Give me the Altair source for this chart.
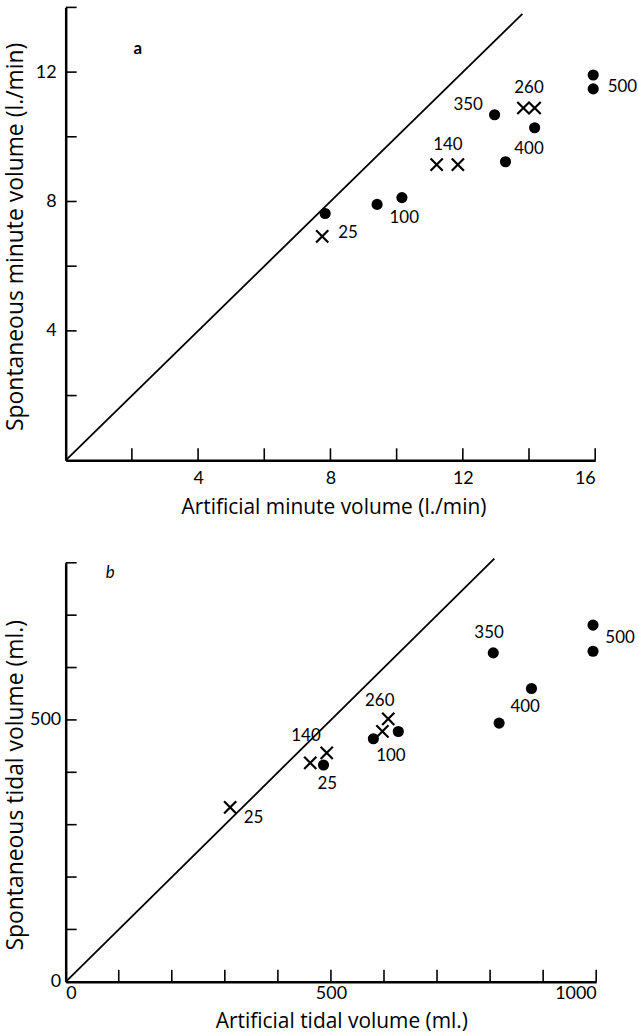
import altair as alt
import pandas as pd

# ---------------- Panel a : minute volume (l./min) ----------------
a_dot_x = [7.84, 9.41, 10.16, 12.96, 14.17, 13.29, 15.94, 15.94]
a_dot_y = [7.63, 7.91, 8.12, 10.68, 10.28, 9.23, 11.91, 11.48]
a_cross_x = [7.75, 11.21, 11.85, 13.83, 14.17]
a_cross_y = [6.92, 9.14, 9.14, 10.89, 10.89]
a_label_text = ["25", "100", "140", "350", "260", "400", "500"]
a_label_x = [8.53, 10.23, 11.55, 12.16, 14.0, 14.0, 16.82]
a_label_y = [7.02, 7.48, 9.75, 10.98, 11.51, 9.63, 11.54]
a_identity = [0, 13.8]
a_xticks = [2, 4, 6, 8, 10, 12, 14, 16]
a_yticks = [2, 4, 6, 8, 10, 12, 14]
a_xlabels = [4, 8, 12, 16]
a_ylabels = [4, 8, 12]
a_panel_letter = ["a"]
a_panel_xy = [2.18, 12.7]

# ---------------- Panel b : tidal volume (ml.) ----------------
b_dot_x = [806, 994, 994, 878, 817, 580, 627, 486]
b_dot_y = [628, 681, 631, 560, 494, 464, 478, 414]
b_cross_x = [310, 461, 492, 597, 608]
b_cross_y = [333, 418, 437, 478, 502]
b_label_text = ["350", "500", "400", "260", "100", "140", "25", "25"]
b_label_x = [798, 1045, 866, 592, 613, 453, 493, 354]
b_label_y = [665, 657, 524, 536, 431, 469, 378, 312]
b_identity = [0, 808]
b_xticks = [100, 200, 300, 400, 500, 600, 700, 800, 900, 1000]
b_yticks = [100, 200, 300, 400, 500, 600, 700, 800]
b_xlabels = [0, 500, 1000]
b_ylabels = [0, 500]
b_panel_letter = ["b"]
b_panel_xy = [84, 780]

CROSS = "M-1,-1L1,1M-1,1L1,-1"
FONT = "Lato"
TFONT = "Open Sans"


def panel(dx, dy, cx, cy, lt, lx, ly, ident, xt, yt, xl, yl, letter, lxy,
          xdom, ydom, w, h, xtitle, ytitle, italic, lab_pad_x, lab_pad_y,
          title_pad_x, title_pad_y, title_x, title_y):
    xs = alt.Scale(domain=xdom, nice=False, zero=False)
    ys = alt.Scale(domain=ydom, nice=False, zero=False)
    xaxis = alt.Axis(values=xl, title=xtitle, labelPadding=lab_pad_x,
                     titlePadding=title_pad_x, titleX=title_x, format="d",
                     titleFontSize=21)
    yaxis = alt.Axis(values=yl, title=ytitle, labelPadding=lab_pad_y,
                     titlePadding=title_pad_y, titleY=title_y, format="d",
                     titleFontSize=23)
    X = alt.X("x:Q", scale=xs, axis=xaxis)
    Y = alt.Y("y:Q", scale=ys, axis=yaxis)

    dots = alt.Chart(pd.DataFrame({"x": dx, "y": dy})).mark_point(
        filled=True, shape="circle", size=125, color="black", opacity=1
    ).encode(x=X, y=Y)
    crosses = alt.Chart(pd.DataFrame({"x": cx, "y": cy})).mark_point(
        filled=False, shape=CROSS, size=150, color="black", strokeWidth=2.2,
        opacity=1
    ).encode(x=X, y=Y)
    labels = alt.Chart(pd.DataFrame({"x": lx, "y": ly, "t": lt})).mark_text(
        font=FONT, fontSize=17, color="black", align="center",
        baseline="middle"
    ).encode(x=X, y=Y, text="t:N")
    line = alt.Chart(pd.DataFrame({"x": ident, "y": ident})).mark_line(
        color="black", strokeWidth=1.8
    ).encode(x=X, y=Y)
    xtick = alt.Chart(pd.DataFrame({"x": xt})).mark_rule(
        color="black", strokeWidth=1.6
    ).encode(x=X, y=alt.value(h), y2=alt.value(h - 12))
    ytick = alt.Chart(pd.DataFrame({"y": yt})).mark_rule(
        color="black", strokeWidth=1.6
    ).encode(y=Y, x=alt.value(0), x2=alt.value(11))
    let = alt.Chart(pd.DataFrame({"x": [lxy[0]], "y": [lxy[1]], "t": letter})).mark_text(
        font=FONT, fontSize=17, color="black", align="center",
        baseline="middle", fontStyle="italic" if italic else "normal",
        fontWeight="normal" if italic else "bold"
    ).encode(x=X, y=Y, text="t:N")
    return alt.layer(line, xtick, ytick, dots, crosses, labels, let).properties(
        width=w, height=h
    )


top = panel(a_dot_x, a_dot_y, a_cross_x, a_cross_y, a_label_text, a_label_x,
            a_label_y, a_identity, a_xticks, a_yticks, a_xlabels, a_ylabels,
            a_panel_letter, a_panel_xy, [0, 16], [0, 14], 532, 455,
            "Artificial minute volume (l./min)",
            "Spontaneous minute volume (l./min)", False, 9, 9.7, 9.5, 8,
            269, 230)

bottom = panel(b_dot_x, b_dot_y, b_cross_x, b_cross_y, b_label_text,
               b_label_x, b_label_y, b_identity, b_xticks, b_yticks,
               b_xlabels, b_ylabels, b_panel_letter, b_panel_xy,
               [0, 1000], [0, 800], 533, 421,
               "Artificial tidal volume (ml.)",
               "Spontaneous tidal volume (ml.)", True, 3, 5, 7.5, 2,
               277, 223)

chart = alt.vconcat(top, bottom, spacing=103, bounds="flush").properties(
    padding={"left": 4, "top": 4, "right": 0, "bottom": 0}
).configure_view(stroke=None).configure_axis(
    domainColor="black", domainWidth=2.5, ticks=False, grid=False,
    labelFont=FONT, labelFontSize=18, labelColor="black",
    titleFont=TFONT, titleFontWeight="normal",
    titleColor="black"
)

chart.save("out.html", embed_options={"renderer": "svg", "actions": False})
